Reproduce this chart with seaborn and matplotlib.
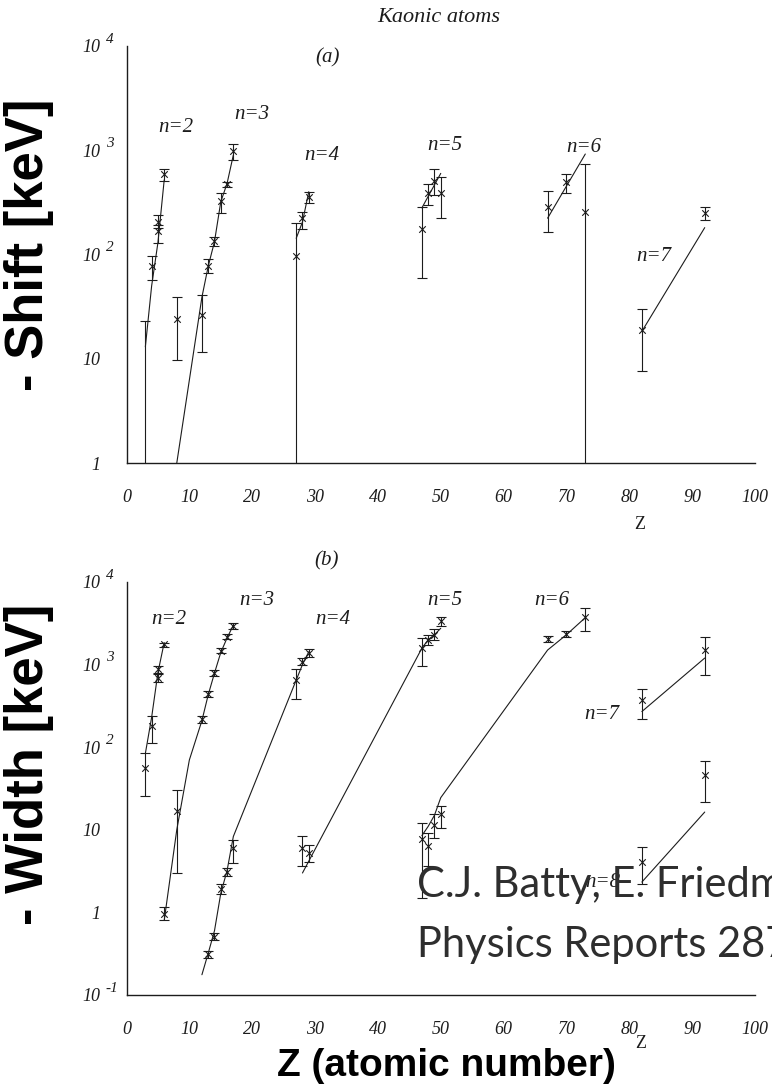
import numpy as np
import pandas as pd
import matplotlib
matplotlib.use("Agg")
import matplotlib.pyplot as plt
import matplotlib.transforms as mtransforms
import seaborn as sns
from matplotlib.ticker import LogLocator, NullFormatter, MultipleLocator

# ---------------- data: level shifts (panel a) ----------------
# each series: measured Z, value, lower / upper ends of the error bar,
# followed by the model curve (Z, value)
shift_n2_z = [3, 4, 5, 5, 6]
shift_n2_val = [0.6, 78, 206, 169, 590]
shift_n2_lo = [0.3, 57, 180, 128, 509]
shift_n2_hi = [23, 97, 240, 190, 654]
shift_n2_fit_z = [3, 4, 5, 6]
shift_n2_fit = [13, 50, 130, 520]

shift_n3_z = [8, 12, 13, 14, 15, 16, 17]
shift_n3_val = [24, 26, 78, 135, 325, 470, 990]
shift_n3_lo = [9.7, 11.7, 66, 120, 248, 440, 804]
shift_n3_hi = [39, 41, 90, 148, 385, 498, 1143]
shift_n3_fit_z = [8, 12, 13, 14, 15, 16, 17]
shift_n3_fit = [1.0, 39, 77, 133, 320, 480, 900]

shift_n4_z = [27, 28, 29]
shift_n4_val = [97, 223, 360]
shift_n4_lo = [0.5, 175, 310]
shift_n4_hi = [199, 258, 400]
shift_n4_fit_z = [27, 28, 29]
shift_n4_fit = [143, 205, 400]

shift_n5_z = [47, 48, 49, 50]
shift_n5_val = [174, 385, 509, 385]
shift_n5_lo = [59, 298, 371, 222]
shift_n5_hi = [287, 473, 654, 556]
shift_n5_fit_z = [47, 50]
shift_n5_fit = [280, 600]

shift_n6_z = [67, 70, 73]
shift_n6_val = [288, 491, 258]
shift_n6_lo = [163, 393, 0.5]
shift_n6_hi = [408, 590, 734]
shift_n6_fit_z = [67, 73]
shift_n6_fit = [223, 920]

shift_n7_z = [82, 92]
shift_n7_val = [19, 249]
shift_n7_lo = [7.6, 215]
shift_n7_hi = [30, 285]
shift_n7_fit_z = [82, 92]
shift_n7_fit = [18.3, 181]

# ---------------- data: level widths (panel b) ----------------
width_n2_z = [3, 4, 5, 5, 6]
width_n2_val = [56, 180, 875, 692, 1757]
width_n2_lo = [26, 113, 800, 620, 1650]
width_n2_hi = [84, 238, 960, 760, 1850]
width_n2_fit_z = [3, 4, 5, 6]
width_n2_fit = [84, 230, 800, 1850]

width_n3_z = [6, 8, 12, 13, 14, 15, 16, 17]
width_n3_val = [0.95, 16.7, 217, 440, 795, 1480, 2180, 2940]
width_n3_lo = [0.8, 3.0, 195, 400, 735, 1370, 2020, 2700]
width_n3_hi = [1.15, 30.5, 240, 480, 860, 1600, 2350, 3200]
width_n3_fit_z = [6, 8, 10, 12, 13, 14, 15, 16, 17]
width_n3_fit = [0.8, 10, 70, 210, 430, 790, 1400, 2100, 3000]

width_n4_z = [13, 14, 15, 16, 17, 27, 28, 29]
width_n4_val = [0.31, 0.51, 1.9, 3.05, 6.0, 653, 1087, 1370]
width_n4_lo = [0.28, 0.46, 1.65, 2.75, 4.0, 380, 980, 1230]
width_n4_hi = [0.34, 0.56, 2.2, 3.4, 7.6, 875, 1200, 1550]
width_n4_fit_z = [12, 13, 14, 15, 16, 17, 27, 28, 29]
width_n4_fit = [0.176, 0.32, 0.6, 1.7, 3.2, 8.3, 650, 1000, 1430]

width_n5_z = [28, 29, 47, 48, 49, 50]
width_n5_val = [6.0, 5.3, 1580, 1990, 2280, 3330]
width_n5_lo = [3.6, 4.1, 960, 1750, 2000, 2900]
width_n5_hi = [8.5, 6.6, 2090, 2300, 2700, 3800]
width_n5_fit_z = [28, 47, 48, 49, 50]
width_n5_fit = [3.0, 1580, 2000, 2300, 2750]

width_n6_z = [47, 48, 49, 50, 67, 70, 73]
width_n6_val = [7.65, 6.35, 11.3, 15.4, 2040, 2330, 3800]
width_n6_lo = [1.5, 3.6, 8.0, 10.6, 1880, 2130, 2570]
width_n6_hi = [12, 9.2, 15.4, 19.4, 2200, 2550, 4900]
width_n6_fit_z = [47, 48, 49, 50, 67, 70, 73]
width_n6_fit = [8.5, 11, 15, 24.5, 1500, 2300, 3700]

width_n7_z = [82, 92]
width_n7_val = [373, 1510]
width_n7_lo = [218, 750]
width_n7_hi = [505, 2140]
width_n7_fit_z = [82, 92]
width_n7_fit = [270, 1200]

width_n8_z = [82, 92]
width_n8_val = [4.1, 45.6]
width_n8_lo = [2.2, 21.6]
width_n8_hi = [6.2, 68]
width_n8_fit_z = [82, 92]
width_n8_fit = [2.33, 16.4]

# level labels: text, Z, value
shift_labels = [("n=2", 7.9, 1660), ("n=3", 19.9, 2200), ("n=4", 31.0, 887),
                ("n=5", 50.7, 1110), ("n=6", 72.8, 1072), ("n=7", 83.9, 96)]
width_labels = [("n=2", 6.7, 3525), ("n=3", 20.7, 6030), ("n=4", 32.9, 3525),
                ("n=5", 50.7, 6030), ("n=6", 67.7, 6030), ("n=7", 75.7, 246),
                ("n=8", 75.8, 2.3)]

x_ticks = [0, 10, 20, 30, 40, 50, 60, 70, 80, 90, 100]
# y tick labels: mantissa text and exponent (None when written plainly)
shift_yticks = [1, 10, 100, 1000, 10000]
shift_ymant = ["1", "10", "10", "10", "10"]
shift_yexp = [None, None, "2", "3", "4"]
width_yticks = [0.1, 1, 10, 100, 1000, 10000]
width_ymant = ["10", "1", "10", "10", "10", "10"]
width_yexp = ["-1", None, None, "2", "3", "4"]

# ---------------- style ----------------
sns.set_theme(style="white")
plt.rcParams["font.family"] = ["Liberation Serif", "DejaVu Serif"]
INK = "#1c1c1c"
SERIF = "Liberation Serif"

W, H = 772, 1084
fig = plt.figure(figsize=(W / 100, H / 100), dpi=100)
fig.patch.set_facecolor("white")


def px_axes(x0, y0, x1, y1):
    return fig.add_axes([x0 / W, 1 - y1 / H, (x1 - x0) / W, (y1 - y0) / H])


ax_a = px_axes(126.5, 46, 755, 463)
ax_b = px_axes(126.5, 582, 755, 995)


def draw_series(ax, z, val, lo, hi, fit_z, fit_v):
    z = np.asarray(z, float)
    val = np.asarray(val, float)
    lo = np.asarray(lo, float)
    hi = np.asarray(hi, float)
    curve = pd.DataFrame({"Z": fit_z, "v": fit_v})
    sns.lineplot(data=curve, x="Z", y="v", ax=ax, color=INK, lw=0.8,
                 estimator=None, sort=False, legend=False)
    ax.errorbar(z, val, yerr=[val - lo, hi - val], fmt="none", ecolor=INK,
                elinewidth=0.8, capsize=3.5, capthick=0.8)
    sns.scatterplot(x=z, y=val, ax=ax, marker="x", s=22, color=INK,
                    linewidth=0.8, legend=False)


def style_axes(ax, ylim, yticks, ymant, yexp):
    ax.set_yscale("log")
    ax.set_xlim(0, 100)
    ax.set_ylim(*ylim)
    sns.despine(ax=ax)
    for side in ("left", "bottom"):
        ax.spines[side].set_color(INK)
        ax.spines[side].set_linewidth(1.0)
    ax.set_xticks(x_ticks, labels=[str(t) for t in x_ticks], fontstyle="italic",
                  fontsize=13, family=SERIF)
    ax.xaxis.set_minor_locator(MultipleLocator(2))
    ax.set_yticks(yticks, labels=ymant, fontstyle="italic", fontsize=13, family=SERIF)
    ax.yaxis.set_minor_locator(LogLocator(base=10, subs=np.arange(2, 10)))
    ax.yaxis.set_minor_formatter(NullFormatter())
    ax.tick_params(axis="x", which="major", direction="in", length=12, width=0.8,
                   color=INK, pad=19, labelcolor=INK)
    ax.tick_params(axis="x", which="minor", direction="in", length=6, width=0.8,
                   color=INK)
    ax.tick_params(axis="y", which="major", direction="in", length=10, width=0.8,
                   color=INK, pad=19, labelcolor=INK)
    ax.tick_params(axis="y", which="minor", direction="in", length=5, width=0.8,
                   color=INK)
    ax.set_ylabel("")
    ax.set_facecolor("white")
    # exponents set as superscripts a little right of each mantissa
    trans = mtransforms.blended_transform_factory(ax.transAxes, ax.transData)
    for t, e in zip(yticks, yexp):
        if e is None:
            continue
        ax.annotate(e, xy=(0, t), xycoords=trans, xytext=(-15, 5),
                    textcoords="offset points", ha="left", va="center",
                    fontsize=11, fontstyle="italic", family=SERIF, color=INK,
                    annotation_clip=False)


for ax in (ax_a, ax_b):
    ax.set_yscale("log")

draw_series(ax_a, shift_n2_z, shift_n2_val, shift_n2_lo, shift_n2_hi, shift_n2_fit_z, shift_n2_fit)
draw_series(ax_a, shift_n3_z, shift_n3_val, shift_n3_lo, shift_n3_hi, shift_n3_fit_z, shift_n3_fit)
draw_series(ax_a, shift_n4_z, shift_n4_val, shift_n4_lo, shift_n4_hi, shift_n4_fit_z, shift_n4_fit)
draw_series(ax_a, shift_n5_z, shift_n5_val, shift_n5_lo, shift_n5_hi, shift_n5_fit_z, shift_n5_fit)
draw_series(ax_a, shift_n6_z, shift_n6_val, shift_n6_lo, shift_n6_hi, shift_n6_fit_z, shift_n6_fit)
draw_series(ax_a, shift_n7_z, shift_n7_val, shift_n7_lo, shift_n7_hi, shift_n7_fit_z, shift_n7_fit)

draw_series(ax_b, width_n2_z, width_n2_val, width_n2_lo, width_n2_hi, width_n2_fit_z, width_n2_fit)
draw_series(ax_b, width_n3_z, width_n3_val, width_n3_lo, width_n3_hi, width_n3_fit_z, width_n3_fit)
draw_series(ax_b, width_n4_z, width_n4_val, width_n4_lo, width_n4_hi, width_n4_fit_z, width_n4_fit)
draw_series(ax_b, width_n5_z, width_n5_val, width_n5_lo, width_n5_hi, width_n5_fit_z, width_n5_fit)
draw_series(ax_b, width_n6_z, width_n6_val, width_n6_lo, width_n6_hi, width_n6_fit_z, width_n6_fit)
draw_series(ax_b, width_n7_z, width_n7_val, width_n7_lo, width_n7_hi, width_n7_fit_z, width_n7_fit)
draw_series(ax_b, width_n8_z, width_n8_val, width_n8_lo, width_n8_hi, width_n8_fit_z, width_n8_fit)

style_axes(ax_a, (1, 1e4), shift_yticks, shift_ymant, shift_yexp)
style_axes(ax_b, (0.1, 1e4), width_yticks, width_ymant, width_yexp)

for txt, z, v in shift_labels:
    ax_a.text(z, v, txt, ha="center", va="center", fontsize=15, fontstyle="italic",
              family=SERIF, color=INK)
for txt, z, v in width_labels:
    ax_b.text(z, v, txt, ha="center", va="center", fontsize=15, fontstyle="italic",
              family=SERIF, color=INK)

ax_a.text(0.3206, 0.971, "(a)", transform=ax_a.transAxes, ha="center", va="center",
          fontsize=15, fontstyle="italic", family=SERIF, color=INK)
ax_b.text(0.319, 1.051, "(b)", transform=ax_b.transAxes, ha="center", va="center",
          fontsize=15, fontstyle="italic", family=SERIF, color=INK)

# small Z axis labels
ax_a.set_xlabel("Z", fontsize=13, family=SERIF, color=INK)
ax_a.xaxis.set_label_coords(0.817, -0.128)
ax_b.set_xlabel("Z", fontsize=13, family=SERIF, color=INK)
ax_b.xaxis.set_label_coords(0.818, -0.098)

fig.text(439 / W, 1 - 17 / H, "Kaonic atoms", ha="center", va="center",
         fontsize=16, fontstyle="italic", family=SERIF, color=INK)

# bold axis captions
fig.text(29 / W, 1 - 245 / H, "- Shift [keV]", rotation=90, ha="center", va="center",
         fontsize=38, fontweight="bold", family="Liberation Sans", color="black")
fig.text(29 / W, 1 - 764 / H, "- Width [keV]", rotation=90, ha="center", va="center",
         fontsize=38, fontweight="bold", family="Liberation Sans", color="black")
fig.text(446 / W, 1 - 1066 / H, "Z (atomic number)", ha="center", va="center",
         fontsize=28, fontweight="bold", family="Liberation Sans", color="black")

# reference caption
fig.text(417 / W, 1 - 897 / H, "C.J. Batty, E. Friedman, A. Gal", ha="left",
         va="baseline", fontsize=30, family="Lato", color="#2e2e2e")
fig.text(417 / W, 1 - 957 / H, "Physics Reports 287 (1997) 385", ha="left",
         va="baseline", fontsize=30, family="Lato", color="#2e2e2e")

fig.savefig("out.png", dpi=100, facecolor="white")
